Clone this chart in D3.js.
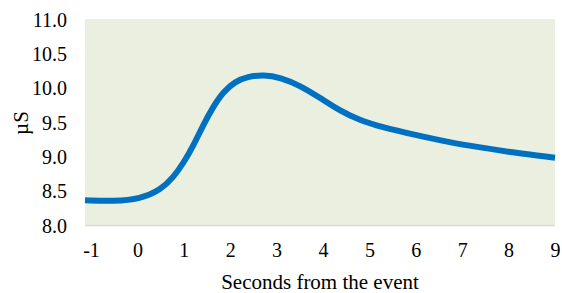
<!DOCTYPE html>
<html>
<head>
<meta charset="utf-8">
<script src="https://cdn.jsdelivr.net/npm/d3@7"></script>
<style>
  body { margin: 0; background: #fff; }
  text { font-family: "Liberation Serif", "Times New Roman", serif; fill: #000; }
</style>
</head>
<body>
<svg id="chart" width="562" height="293"></svg>
<script>
// seconds from the event vs skin conductance (µS)
const seconds = [-1.13, -0.5, 0.06, 0.5, 0.78, 0.99, 1.21, 1.42, 1.64, 1.85, 2.11, 2.37, 2.72, 3.08, 3.51, 3.94, 4.37, 4.81, 5.24, 5.99, 6.75, 7.39, 8.04, 9];
const conductance = [8.36, 8.345, 8.38, 8.51, 8.70, 8.90, 9.16, 9.46, 9.73, 9.94, 10.09, 10.16, 10.19, 10.15, 10.03, 9.85, 9.66, 9.52, 9.43, 9.31, 9.2, 9.13, 9.06, 8.98];
const xTicks = [-1, 0, 1, 2, 3, 4, 5, 6, 7, 8, 9];
const yTicks = [8.0, 8.5, 9.0, 9.5, 10.0, 10.5, 11.0];

const svg = d3.select("#chart");
const plot = { left: 85, right: 555, top: 19, bottom: 225 };

const x = d3.scaleLinear().domain([-1.13, 9]).range([plot.left, plot.right]);
const y = d3.scaleLinear().domain([8, 11]).range([plot.bottom, plot.top]);

// plot area background
svg.append("rect")
    .attr("x", plot.left)
    .attr("y", plot.top)
    .attr("width", plot.right - plot.left)
    .attr("height", plot.bottom - plot.top)
    .attr("fill", "#ebefdf");

// bottom axis line
svg.append("line")
    .attr("x1", plot.left).attr("x2", plot.right)
    .attr("y1", plot.bottom + 0.5).attr("y2", plot.bottom + 0.5)
    .attr("stroke", "#d9d9d9")
    .attr("stroke-width", 1.5);

// y tick labels
const yAxis = d3.axisLeft(y).tickValues(yTicks).tickFormat(d3.format(".1f")).tickSize(0).tickPadding(0);
const gy = svg.append("g").attr("transform", `translate(67,0)`).call(yAxis);
gy.select(".domain").remove();
gy.selectAll("text").style("font-size", "20px").style("font-family", "Liberation Serif").attr("dy", "0.35em");

// x tick labels
const xAxis = d3.axisBottom(x).tickValues(xTicks).tickFormat(d3.format("d")).tickSize(0).tickPadding(0);
const gx = svg.append("g").attr("transform", `translate(0,${plot.bottom})`).call(xAxis);
gx.select(".domain").remove();
gx.selectAll("text").style("font-size", "20px").style("font-family", "Liberation Serif")
    .attr("dy", null).attr("y", 32)
    .text(d => d < 0 ? "-" + Math.abs(d) : d);

// series
const data = seconds.map((s, i) => ({ s, v: conductance[i] }));
const line = d3.line().x(d => x(d.s)).y(d => y(d.v)).curve(d3.curveBasis);
svg.append("path")
    .datum(data)
    .attr("d", line)
    .attr("fill", "none")
    .attr("stroke", "#0070c0")
    .attr("stroke-width", 6)
    .attr("stroke-linecap", "butt");

// axis titles
svg.append("text")
    .attr("x", 320).attr("y", 289)
    .attr("text-anchor", "middle")
    .style("font-size", "21px")
    .text("Seconds from the event");

svg.append("text")
    .attr("transform", "translate(28,123) rotate(-90)")
    .attr("text-anchor", "middle")
    .style("font-size", "21px")
    .text("µS");
</script>
</body>
</html>
